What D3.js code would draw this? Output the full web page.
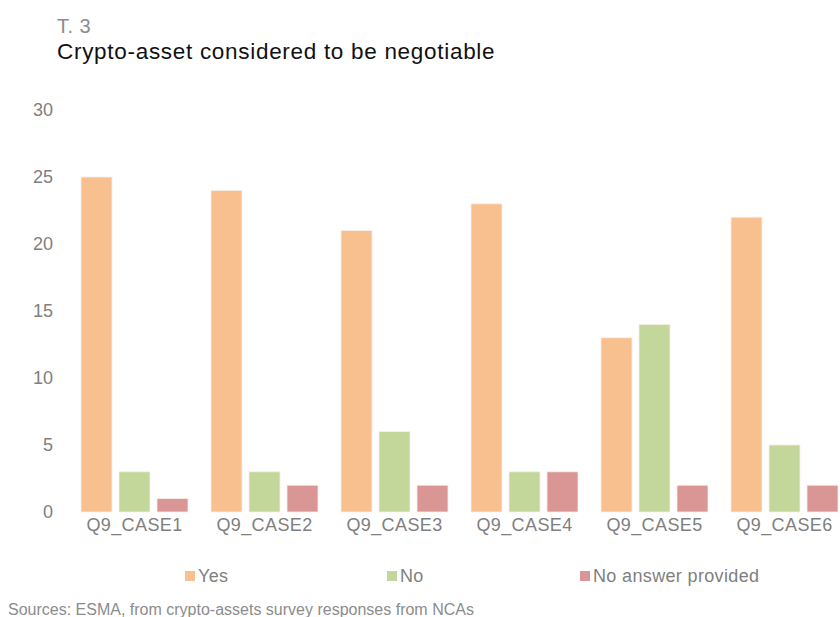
<!DOCTYPE html>
<html>
<head>
<meta charset="utf-8">
<script src="https://cdn.jsdelivr.net/npm/d3@7"></script>
<style>
  html, body { margin: 0; padding: 0; background: #fff; }
  svg { display: block; font-family: "Liberation Sans", Arial, sans-serif; }
</style>
</head>
<body>
<svg id="chart" width="840" height="617"></svg>
<script>
// Survey answers per case
const categories = ["Q9_CASE1", "Q9_CASE2", "Q9_CASE3", "Q9_CASE4", "Q9_CASE5", "Q9_CASE6"];
const seriesNames = ["Yes", "No", "No answer provided"];
const yesValues = [25, 24, 21, 23, 13, 22];
const noValues = [3, 3, 6, 3, 14, 5];
const noAnswerValues = [1, 2, 2, 3, 2, 2];
const yTicks = [0, 5, 10, 15, 20, 25, 30];

const seriesValues = [yesValues, noValues, noAnswerValues];
const colors = ["#F9C08F", "#C4D79B", "#D99695"];

const svg = d3.select("#chart");

// Titles
svg.append("text").attr("x", 57).attr("y", 32.5).attr("font-size", 20).attr("letter-spacing", 0.5)
  .attr("fill", "#8c8c8c").text("T. 3");
svg.append("text").attr("x", 57).attr("y", 58.5).attr("font-size", 22.5).attr("letter-spacing", 0.7)
  .attr("fill", "#111").text("Crypto-asset considered to be negotiable");

// Scales
const x0 = d3.scaleBand().domain(categories).range([69.5, 849.5]).paddingInner(23 / 130).paddingOuter(11.5 / 130);
const x1 = d3.scaleBand().domain(seriesNames).range([0, x0.bandwidth()]).paddingInner(7 / 38).paddingOuter(0);
const y = d3.scaleLinear().domain([0, 30]).range([512, 110]);

// Y axis: labels only
const yAxis = svg.append("g").attr("transform", "translate(53,0)")
  .call(d3.axisLeft(y).tickValues(yTicks).tickSize(0).tickPadding(0));
yAxis.select(".domain").remove();
yAxis.selectAll("text").attr("font-size", 18).attr("fill", "#7f7f7f").attr("font-family", "Liberation Sans, Arial, sans-serif");

// Bars
const rows = categories.map((c, i) => ({ cat: c, vals: seriesNames.map((s, j) => ({ s, j, v: seriesValues[j][i] })) }));
const groups = svg.append("g").selectAll("g").data(rows).join("g")
  .attr("transform", d => `translate(${x0(d.cat)},0)`);
groups.selectAll("rect").data(d => d.vals).join("rect")
  .attr("x", d => x1(d.s))
  .attr("y", d => y(d.v))
  .attr("width", x1.bandwidth())
  .attr("height", d => y(0) - y(d.v))
  .attr("fill", d => colors[d.j])
  .attr("stroke", "#fbeee6")
  .attr("stroke-width", 0.8);

// X axis: category labels
const xAxis = svg.append("g").attr("transform", "translate(0,512)")
  .call(d3.axisBottom(x0).tickSize(0).tickPadding(6));
xAxis.select(".domain").remove();
xAxis.selectAll("text").attr("font-size", 18).attr("fill", "#7f7f7f")
  .attr("font-family", "Liberation Sans, Arial, sans-serif").attr("letter-spacing", 0.4);

// Legend
const legendX = [185, 387, 580];
const legend = svg.append("g").selectAll("g").data(seriesNames).join("g")
  .attr("transform", (d, i) => `translate(${legendX[i]},571)`);
legend.append("rect").attr("width", 10).attr("height", 10).attr("fill", (d, i) => colors[i]);
legend.append("text").attr("x", 13).attr("y", 11).attr("font-size", 18).attr("letter-spacing", 0.35)
  .attr("fill", "#7f7f7f").text(d => d);

// Source note
svg.append("text").attr("x", 8).attr("y", 615).attr("font-size", 16).attr("fill", "#8c8c8c")
  .text("Sources: ESMA, from crypto-assets survey responses from NCAs");
</script>
</body>
</html>
